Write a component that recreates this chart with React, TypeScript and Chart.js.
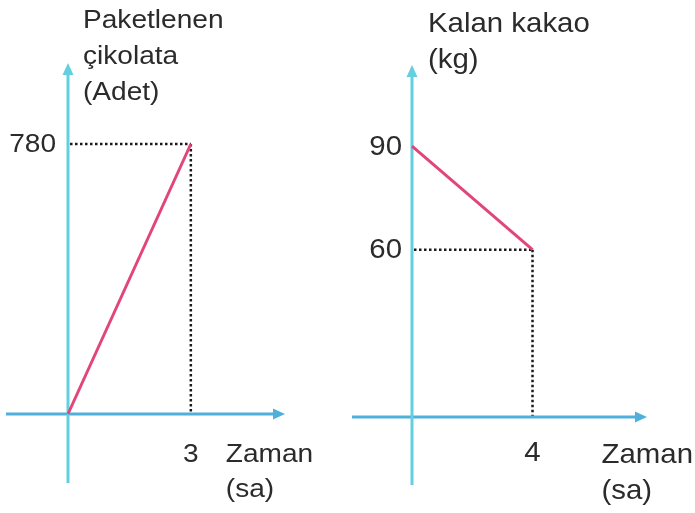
import React, { useEffect, useRef } from "react";
import { Chart, registerables } from "chart.js";

Chart.register(...registerables);

// ---- Data ----
const leftTimes = [0, 3];
const leftPackaged = [0, 780];
const leftYTicks = [780];
const leftXTicks = [3];
const leftTitle = ["Paketlenen", "çikolata", "(Adet)"];

const rightTimes = [0, 4];
const rightCocoa = [90, 60];
const rightYTicks = [90, 60];
const rightXTicks = [4];
const rightTitle = ["Kalan kakao", "(kg)"];

const xTitle = ["Zaman", "(sa)"];

// ---- Styling ----
const PINK = "#e2457c";
const Y_AXIS = "#62d0de";
const X_AXIS = "#4fb0dc";
const TEXT = "#2b2b2b";
const FONT = "'Liberation Sans', Arial, sans-serif";

type Cfg = {
  xs: number[];
  ys: number[];
  xTicks: number[];
  yTicks: number[];
  title: string[];
  xMin: number; xMax: number; yMin: number; yMax: number;
  padding: { left: number; right: number; top: number; bottom: number };
  axisLeftExt: number; axisBottomExt: number;
  fontSize: number; scaleX: number;
  titleDx: number; titleBaselines: number[];
  yLabelGap: number;
  xLabelDy: number;
  zamanDx: number; zamanBaselines: number[];
};

function drawText(ctx: CanvasRenderingContext2D, txt: string, x: number, y: number, align: CanvasTextAlign, base: CanvasTextBaseline, size: number, sx: number) {
  ctx.save();
  ctx.font = `${size}px ${FONT}`;
  ctx.fillStyle = TEXT;
  ctx.textAlign = align;
  ctx.textBaseline = base;
  ctx.translate(x, y);
  ctx.scale(sx, 1);
  ctx.fillText(txt, 0, 0);
  ctx.restore();
}

function makePlugin(cfg: Cfg) {
  return {
    id: "schematicAxes",
    beforeDatasetsDraw(chart: any) {
      const ctx: CanvasRenderingContext2D = chart.ctx;
      const xs = chart.scales.x;
      const ys = chart.scales.y;
      const area = chart.chartArea;
      const ox = xs.getPixelForValue(0);
      const oy = area.bottom;
      ctx.save();
      // dotted guides
      ctx.strokeStyle = "#1a1a1a";
      ctx.lineWidth = 2.5;
      ctx.setLineDash([2.5, 2.5]);
      const lastX = cfg.xs[cfg.xs.length - 1];
      const lastY = cfg.ys[cfg.ys.length - 1];
      const px = xs.getPixelForValue(lastX);
      const py = ys.getPixelForValue(lastY);
      ctx.beginPath();
      ctx.moveTo(ox + 2, py);
      ctx.lineTo(px, py);
      ctx.moveTo(px, py);
      ctx.lineTo(px, oy);
      ctx.stroke();
      ctx.setLineDash([]);

      // x axis
      ctx.strokeStyle = X_AXIS;
      ctx.fillStyle = X_AXIS;
      ctx.lineWidth = 3;
      ctx.beginPath();
      ctx.moveTo(ox - cfg.axisLeftExt, oy);
      ctx.lineTo(area.right - 8, oy);
      ctx.stroke();
      ctx.beginPath();
      ctx.moveTo(area.right, oy);
      ctx.lineTo(area.right - 12, oy - 5.5);
      ctx.lineTo(area.right - 12, oy + 5.5);
      ctx.closePath();
      ctx.fill();

      // y axis
      ctx.strokeStyle = Y_AXIS;
      ctx.fillStyle = Y_AXIS;
      ctx.beginPath();
      ctx.moveTo(ox, oy + cfg.axisBottomExt);
      ctx.lineTo(ox, area.top + 8);
      ctx.stroke();
      ctx.beginPath();
      ctx.moveTo(ox, area.top);
      ctx.lineTo(ox - 5.5, area.top + 12);
      ctx.lineTo(ox + 5.5, area.top + 12);
      ctx.closePath();
      ctx.fill();
      ctx.restore();

      // tick labels
      cfg.yTicks.forEach((v) => {
        drawText(ctx, String(v), ox - cfg.yLabelGap, ys.getPixelForValue(v) + 1, "right", "middle", cfg.fontSize, cfg.scaleX);
      });
      cfg.xTicks.forEach((v) => {
        drawText(ctx, String(v), xs.getPixelForValue(v), oy + cfg.xLabelDy, "center", "alphabetic", cfg.fontSize, cfg.scaleX);
      });
      // titles
      cfg.title.forEach((t, i) => {
        drawText(ctx, t, ox + cfg.titleDx, cfg.titleBaselines[i], "left", "alphabetic", cfg.fontSize, cfg.scaleX);
      });
      const tickX = xs.getPixelForValue(cfg.xTicks[0]);
      xTitle.forEach((t, i) => {
        drawText(ctx, t, tickX + cfg.zamanDx, oy + cfg.zamanBaselines[i], "left", "alphabetic", cfg.fontSize, cfg.scaleX);
      });
    },
  };
}

function Panel({ cfg, left, width }: { cfg: Cfg; left: number; width: number }) {
  const ref = useRef<HTMLCanvasElement | null>(null);
  useEffect(() => {
    if (!ref.current) return;
    const chart = new Chart(ref.current, {
      type: "scatter",
      data: {
        datasets: [
          {
            data: cfg.xs.map((x, i) => ({ x, y: cfg.ys[i] })),
            showLine: true,
            borderColor: PINK,
            borderWidth: 3,
            pointRadius: 0,
            clip: false as any,
          },
        ],
      },
      options: {
        animation: false,
        responsive: false,
        maintainAspectRatio: false,
        layout: { padding: cfg.padding },
        plugins: { legend: { display: false }, tooltip: { enabled: false } },
        scales: {
          x: { type: "linear", min: cfg.xMin, max: cfg.xMax, display: false },
          y: { type: "linear", min: cfg.yMin, max: cfg.yMax, display: false },
        },
      },
      plugins: [makePlugin(cfg)],
    });
    return () => chart.destroy();
  }, []);
  return (
    <canvas
      ref={ref}
      width={width}
      height={513}
      style={{ position: "absolute", left, top: 0, width, height: 513 }}
    />
  );
}

const leftCfg: Cfg = {
  xs: leftTimes,
  ys: leftPackaged,
  xTicks: leftXTicks,
  yTicks: leftYTicks,
  title: leftTitle,
  xMin: 0, xMax: 5.3, yMin: 0, yMax: 1014,
  padding: { left: 68, right: 347 - 285, top: 63, bottom: 513 - 414 },
  axisLeftExt: 62, axisBottomExt: 69,
  fontSize: 26, scaleX: 1.08,
  titleDx: 15, titleBaselines: [28, 64, 100],
  yLabelGap: 12,
  xLabelDy: 48,
  zamanDx: 35, zamanBaselines: [48, 83],
};

const rightCfg: Cfg = {
  xs: rightTimes,
  ys: rightCocoa,
  xTicks: rightXTicks,
  yTicks: rightYTicks,
  title: rightTitle,
  xMin: 0, xMax: 7.8, yMin: 11.5, yMax: 113.5,
  padding: { left: 412 - 347, right: 695 - 647, top: 65, bottom: 513 - 417 },
  axisLeftExt: 60, axisBottomExt: 68,
  fontSize: 28, scaleX: 1.05,
  titleDx: 16, titleBaselines: [32, 68],
  yLabelGap: 10,
  xLabelDy: 44,
  zamanDx: 69, zamanBaselines: [46, 82],
};

export default function App() {
  return (
    <div style={{ position: "fixed", left: 0, top: 0, width: 695, height: 513, background: "#fff", overflow: "hidden" }}>
      <Panel cfg={leftCfg} left={0} width={347} />
      <Panel cfg={rightCfg} left={347} width={348} />
    </div>
  );
}
